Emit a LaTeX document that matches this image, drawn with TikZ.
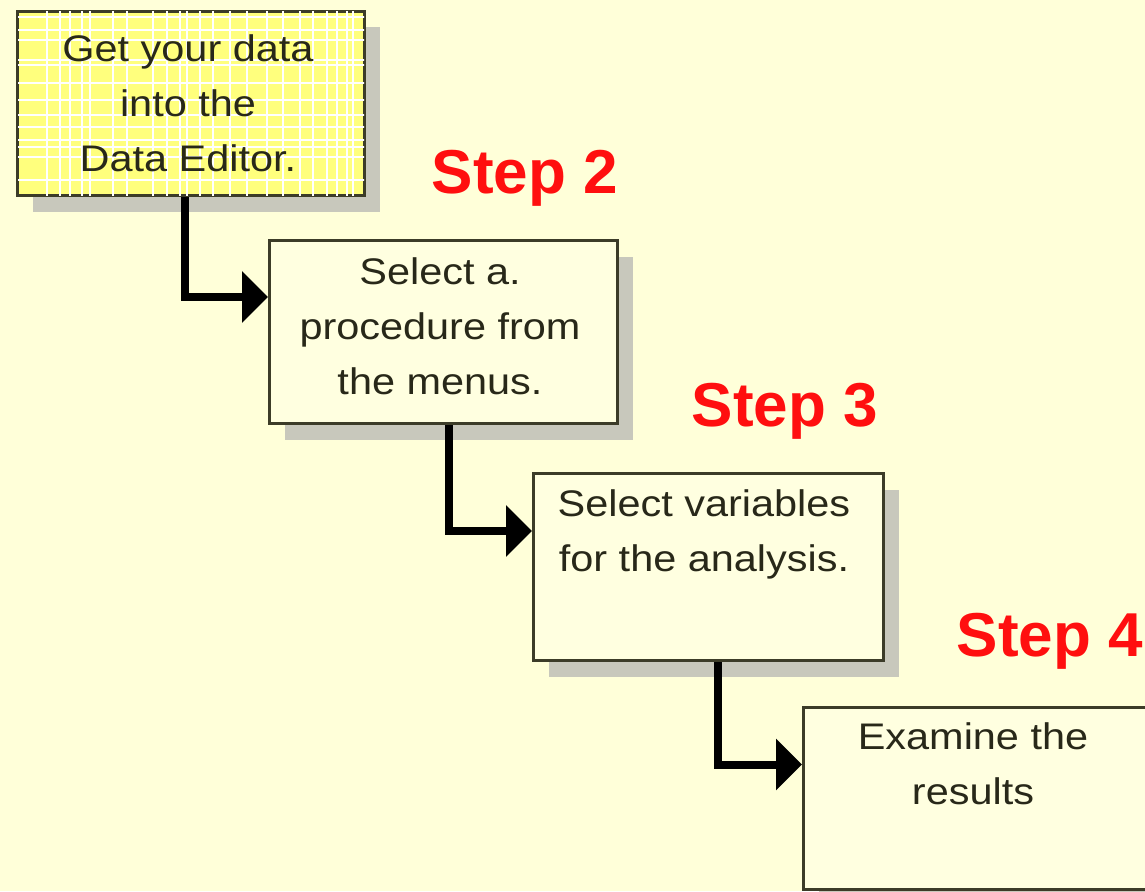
\documentclass[tikz,border=0pt]{standalone}
\usepackage{fontspec}
\setmainfont{Liberation Sans}
\newfontfamily\wideface{Liberation Sans}[FakeStretch=1.12]
\usetikzlibrary{arrows.meta,shadows}
\definecolor{bg}{RGB}{255,255,217}
\definecolor{boxfill}{RGB}{255,255,224}
\definecolor{yellowfill}{RGB}{255,255,125}
\definecolor{frame}{RGB}{60,60,40}
\definecolor{shade}{RGB}{200,200,188}
\definecolor{txt}{RGB}{40,40,25}
\definecolor{stepred}{RGB}{255,15,15}
\begin{document}
\begin{tikzpicture}[x=1pt,y=-1pt,
  box/.style={draw=frame, line width=3pt, fill=boxfill, anchor=north west, inner sep=0pt,
    general shadow={fill=shade, shadow xshift=15pt, shadow yshift=-16pt}},
  boxtext/.style={align=center, text=txt, font=\wideface\fontsize{37}{55}\selectfont, inner sep=0pt},
  steplabel/.style={text=stepred, font=\fontsize{62}{70}\selectfont\bfseries, inner sep=0pt},
  flow/.style={line width=8pt, line join=miter, -{Triangle[length=26pt,width=50pt]}}
]
\useasboundingbox (0,0) rectangle (1145,891);
\fill[bg] (0,0) rectangle (1145,891);
\clip (0,0) rectangle (1145,891);

% boxes
\node[box, fill=yellowfill, minimum width=347pt, minimum height=184pt] (b1) at (16,10) {};
\begin{scope}
  \clip ([shift={(2,2)}]b1.north west) rectangle ([shift={(-2,-2)}]b1.south east);
  \foreach \x in {47,60,70,82,90,113,127,153,167,180,187,200,213,230,247,267,283,300,313,327,337,347,353}
    \draw[white, line width=1.2pt] (\x,0) -- (\x,220);
  \foreach \y in {17,30,40,60,65,83,100,115,127,140,147,157,180}
    \draw[white, line width=1.2pt] (0,\y) -- (400,\y);
\end{scope}
\node[box, minimum width=348pt, minimum height=183pt] (b2) at (268,239) {};
\node[box, minimum width=350pt, minimum height=187pt] (b3) at (532,472) {};
\node[box, minimum width=350pt, minimum height=182pt] (b4) at (802,706) {};

% box texts
\node[boxtext] (t1) at (188,103) {Get your data\\into the\\Data Editor.};
\node[boxtext] (t2) at (440,326) {Select a.\\procedure from\\the menus.};
\node[boxtext] (t3) at (704,534) {Select variables\\for the analysis.};
\node[boxtext] (t4) at (973,764) {Examine the\\results};

% step labels
\node[steplabel] (s2) at (525,178) {Step 2};
\node[steplabel] (s3) at (785,411) {Step 3};
\node[steplabel, anchor=east] (s4) at (1143,641) {Step 4};

% connectors
\draw[flow] ([xshift=-6.5pt]b1.south) |- ([yshift=35pt]b2.west);
\draw[flow] ([xshift=5pt]b2.south) |- ([yshift=36pt]b3.west);
\draw[flow] ([xshift=9pt]b3.south) |- ([yshift=34pt]b4.west);
\end{tikzpicture}
\end{document}
